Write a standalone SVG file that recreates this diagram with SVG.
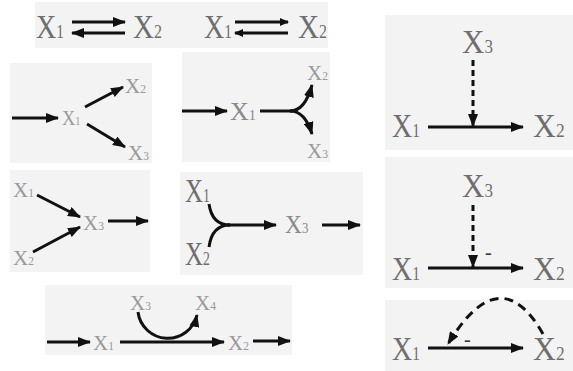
<svg xmlns="http://www.w3.org/2000/svg" width="573" height="371" viewBox="0 0 573 371">
<style>
.bg{fill:#f3f3f3}
text{font-family:"Liberation Serif","Times New Roman",serif}
.big{font-size:33px;fill:#6e6e6e}
.mid{font-size:26px;fill:#8a8a8a}
.sm{font-size:21px;fill:#999}
.s{font-size:0.55em}
.c{fill:none;stroke:#111;stroke-width:3}
.d{stroke-dasharray:6 4}
.d2{stroke-dasharray:9 6}
.minus{font-size:20px;fill:#333}
</style>
<defs>
<marker id="ah" markerWidth="13" markerHeight="10" refX="12" refY="5" orient="auto" markerUnits="userSpaceOnUse"><path d="M0,0 L13,5 L0,10 z" fill="#111"/></marker>
<marker id="ahs" markerWidth="9" markerHeight="8" refX="8" refY="4" orient="auto" markerUnits="userSpaceOnUse"><path d="M0,0 L9,4 L0,8 z" fill="#111"/></marker>
</defs>
<g id="panels">
<rect class="bg" x="35" y="2" width="293" height="46"/>
<rect class="bg" x="10" y="63" width="142" height="100"/>
<rect class="bg" x="182" y="52" width="148" height="110"/>
<rect class="bg" x="10" y="170" width="140" height="102"/>
<rect class="bg" x="180" y="172" width="183" height="103"/>
<rect class="bg" x="45" y="285" width="247" height="70"/>
<rect class="bg" x="385" y="15" width="188" height="135"/>
<rect class="bg" x="385" y="157" width="188" height="131"/>
<rect class="bg" x="385" y="300" width="188" height="71"/>
</g>
<g id="connectors">
<line class="c" x1="72" y1="22" x2="125" y2="22" marker-end="url(#ah)"/>
<line class="c" x1="125" y1="33" x2="72" y2="33" marker-end="url(#ah)"/>
<line class="c" x1="235" y1="22" x2="288" y2="22" marker-end="url(#ahs)"/>
<line class="c" x1="288" y1="33" x2="235" y2="33" marker-end="url(#ahs)"/>
<line class="c" x1="12" y1="118" x2="58" y2="118" marker-end="url(#ah)"/>
<line class="c" x1="85" y1="107" x2="123" y2="87" marker-end="url(#ah)"/>
<line class="c" x1="87" y1="124" x2="125" y2="147" marker-end="url(#ah)"/>
<line class="c" x1="182" y1="111" x2="227" y2="111" marker-end="url(#ah)"/>
<path class="c" d="M260,111 L292,111"/>
<path class="c" d="M290,111 Q305,111 312,85" marker-end="url(#ah)"/>
<path class="c" d="M290,111 Q305,111 312,134" marker-end="url(#ah)"/>
<line class="c" x1="37" y1="195" x2="80" y2="217" marker-end="url(#ah)"/>
<line class="c" x1="33" y1="252" x2="80" y2="227" marker-end="url(#ah)"/>
<line class="c" x1="108" y1="221" x2="148" y2="221" marker-end="url(#ah)"/>
<path class="c" d="M209,204 Q212,225 230,225"/>
<path class="c" d="M209,247 Q212,225 230,225"/>
<line class="c" x1="228" y1="225" x2="276" y2="225" marker-end="url(#ah)"/>
<line class="c" x1="322" y1="225" x2="360" y2="225" marker-end="url(#ah)"/>
<line class="c" x1="47" y1="342" x2="90" y2="342" marker-end="url(#ah)"/>
<line class="c" x1="120" y1="342" x2="224" y2="342" marker-end="url(#ah)"/>
<line class="c" x1="253" y1="341" x2="290" y2="341" marker-end="url(#ah)"/>
<path class="c" d="M138,312 A30,30 0 0 0 197,315" marker-end="url(#ah)"/>
<line class="c" x1="428" y1="127" x2="523" y2="127" marker-end="url(#ah)"/>
<line class="c d" x1="473" y1="60" x2="473" y2="126" marker-end="url(#ah)"/>
<line class="c" x1="428" y1="268" x2="523" y2="268" marker-end="url(#ah)"/>
<line class="c d" x1="473" y1="205" x2="473" y2="267" marker-end="url(#ah)"/>
<line class="c" x1="428" y1="348" x2="523" y2="348" marker-end="url(#ah)"/>
<path class="c d2" d="M543,334 Q500,258 448,344" marker-end="url(#ah)"/>
</g>
<g id="n-top-x1a"><text class="big" transform="translate(36,38) scale(0.85,1)">X<tspan class="s">1</tspan></text></g>
<g id="n-top-x2a"><text class="big" transform="translate(133,38) scale(0.88,1)">X<tspan class="s">2</tspan></text></g>
<g id="n-top-x1b"><text class="big" transform="translate(204,38) scale(0.85,1)">X<tspan class="s">1</tspan></text></g>
<g id="n-top-x2b"><text class="big" transform="translate(298,38) scale(0.88,1)">X<tspan class="s">2</tspan></text></g>
<g id="n-p2-x1"><text class="sm" transform="translate(62,125) scale(0.88,1)">X<tspan class="s">1</tspan></text></g>
<g id="n-p2-x2"><text class="sm" x="125" y="93">X<tspan class="s">2</tspan></text></g>
<g id="n-p2-x3"><text class="sm" x="128" y="160">X<tspan class="s">3</tspan></text></g>
<g id="n-p3-x1"><text class="mid" x="230" y="120">X<tspan class="s">1</tspan></text></g>
<g id="n-p3-x2"><text class="sm" x="307" y="80">X<tspan class="s">2</tspan></text></g>
<g id="n-p3-x3"><text class="sm" x="307" y="158">X<tspan class="s">3</tspan></text></g>
<g id="n-p4-x1"><text class="sm" x="13" y="197">X<tspan class="s">1</tspan></text></g>
<g id="n-p4-x2"><text class="sm" x="13" y="265">X<tspan class="s">2</tspan></text></g>
<g id="n-p4-x3"><text class="sm" x="83" y="230">X<tspan class="s">3</tspan></text></g>
<g id="n-p5-x1"><text class="big" transform="translate(185,202) scale(0.76,1)">X<tspan class="s">1</tspan></text></g>
<g id="n-p5-x2"><text class="big" transform="translate(185,265) scale(0.76,1)">X<tspan class="s">2</tspan></text></g>
<g id="n-p5-x3"><text class="mid" transform="translate(285,233) scale(0.9,1)">X<tspan class="s">3</tspan></text></g>
<g id="n-p6-x1"><text class="sm" x="93" y="350">X<tspan class="s">1</tspan></text></g>
<g id="n-p6-x2"><text class="sm" x="228" y="350">X<tspan class="s">2</tspan></text></g>
<g id="n-p6-x3"><text class="sm" x="130" y="310">X<tspan class="s">3</tspan></text></g>
<g id="n-p6-x4"><text class="sm" x="195" y="310">X<tspan class="s">4</tspan></text></g>
<g id="n-p7-x3"><text class="big" transform="translate(462,53) scale(0.94,1)">X<tspan class="s">3</tspan></text></g>
<g id="n-p7-x1"><text class="big" transform="translate(392,137) scale(0.85,1)">X<tspan class="s">1</tspan></text></g>
<g id="n-p7-x2"><text class="big" transform="translate(533,137) scale(0.96,1)">X<tspan class="s">2</tspan></text></g>
<g id="n-p8-x3"><text class="big" transform="translate(462,197) scale(0.94,1)">X<tspan class="s">3</tspan></text></g>
<g id="n-p8-x1"><text class="big" transform="translate(392,280) scale(0.85,1)">X<tspan class="s">1</tspan></text></g>
<g id="n-p8-x2"><text class="big" transform="translate(533,280) scale(0.96,1)">X<tspan class="s">2</tspan></text></g>
<text class="minus" x="485" y="259">-</text>
<g id="n-p9-x1"><text class="big" transform="translate(392,360) scale(0.85,1)">X<tspan class="s">1</tspan></text></g>
<g id="n-p9-x2"><text class="big" transform="translate(533,360) scale(0.96,1)">X<tspan class="s">2</tspan></text></g>
<text class="minus" x="464" y="346">-</text>
</svg>
